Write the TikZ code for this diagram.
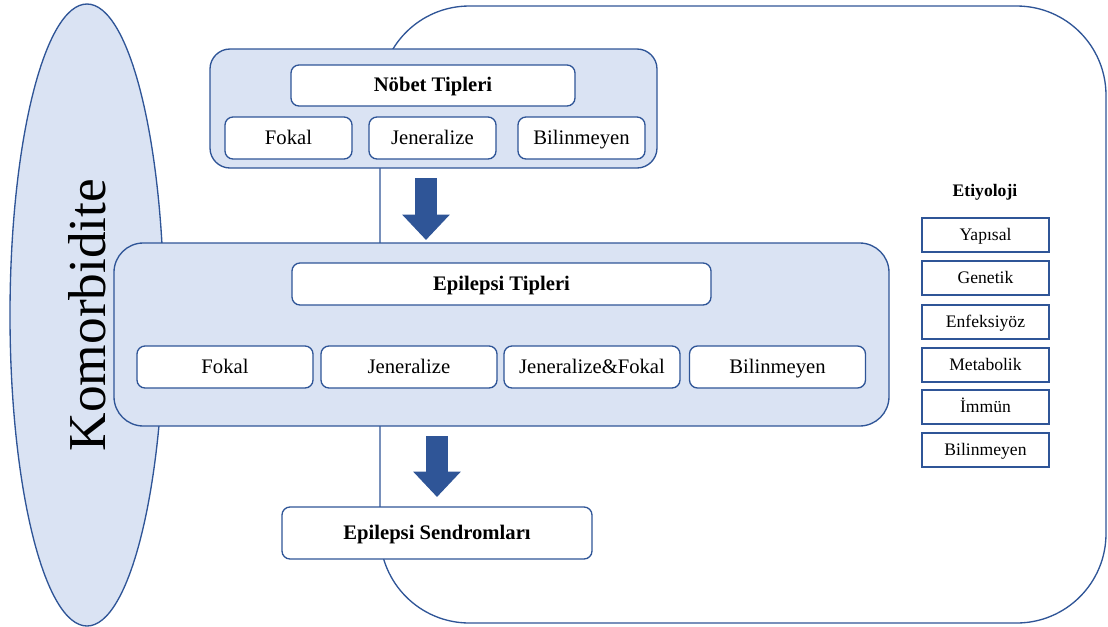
\documentclass[tikz,border=0pt]{standalone}
\usepackage{fontspec}
\setmainfont{Liberation Serif}
\usetikzlibrary{shapes,arrows.meta,positioning}

\definecolor{boxline}{HTML}{2F5597}
\definecolor{boxfill}{HTML}{DAE3F3}

\tikzset{
  panel/.style={draw=boxline, line width=1pt, fill=boxfill, rounded corners=15pt},
  title/.style={draw=boxline, line width=1pt, fill=white, rounded corners=6pt,
    text height=11.5pt, text depth=2pt,
    font=\fontsize{15.5}{18}\selectfont\bfseries},
  item/.style={draw=boxline, line width=1pt, fill=white, rounded corners=6pt,
    text height=11.5pt, text depth=2pt,
    font=\fontsize{15.5}{18}\selectfont},
  etbox/.style={draw=boxline, line width=1.3pt, fill=white,
    text height=9.5pt, text depth=2pt,
    minimum width=95.25pt, minimum height=25.5pt, font=\fontsize{13.2}{15}\selectfont},
  bigarrow/.style={draw=boxline, line width=17pt,
    -{Triangle[width=34.5pt, length=19pt]}}
}

\begin{document}
\begin{tikzpicture}[x=0.75pt, y=-0.75pt]
\useasboundingbox (0,0) rectangle (1108,626);

% Outer frame
\draw[boxline, line width=1pt, rounded corners=67pt] (380,6) rectangle (1106,623);

% Komorbidite
\node[draw=boxline, line width=1pt, fill=boxfill, ellipse, rotate=90,
  minimum width=466.5pt, minimum height=115.5pt, inner sep=0pt,
  font=\fontsize{40}{44}\selectfont] (komorb) at (87,315) {Komorbidite};

% Nöbet tipleri
\node[panel, minimum width=335.25pt, minimum height=89.25pt] (nobet) at (433.5,108.5) {};
\node[title, minimum width=213pt, minimum height=30.75pt] (nobettitle) at (433,85.5) {Nöbet Tipleri};
\node[item, minimum width=95.25pt, minimum height=31.5pt] (nfokal) at (288.5,138) {Fokal};
\node[item, minimum width=95.25pt, minimum height=31.5pt] (njen) at (432.5,138) {Jeneralize};
\node[item, minimum width=95.25pt, minimum height=31.5pt] (nbil) at (581.5,138) {Bilinmeyen};

% Epilepsi tipleri
\node[panel, rounded corners=22pt, minimum width=581.25pt, minimum height=137.25pt] (epi) at (501.5,334.5) {};
\node[title, minimum width=314.25pt, minimum height=31.5pt] (epititle) at (501.5,284) {Epilepsi Tipleri};
\node[item, minimum width=132pt, minimum height=31.5pt] (efokal) at (225,367) {Fokal};
\node[item, minimum width=132pt, minimum height=31.5pt] (ejen) at (409,367) {Jeneralize};
\node[item, minimum width=132pt, minimum height=31.5pt] (ejf) at (592,367) {Jeneralize\&Fokal};
\node[item, minimum width=132pt, minimum height=31.5pt] (ebil) at (777.5,367) {Bilinmeyen};

% Epilepsi sendromlari
\node[title, minimum width=232.5pt, minimum height=39pt] (sendrom) at (437,533) {Epilepsi Sendromları};

% Arrows
\coordinate (a1s) at (426,178);
\coordinate (a1e) at (426,240);
\coordinate (a2s) at (437,436);
\coordinate (a2e) at (437,497);
\draw[bigarrow] (a1s) -- (a1e);
\draw[bigarrow] (a2s) -- (a2e);

% Etiyoloji
\node[font=\fontsize{13.2}{15}\selectfont\bfseries] (etitle) at (985,192) {Etiyoloji};
\node[etbox] (yap) at (985.5,235) {Yapısal};
\node[etbox] (gen) at (985.5,278) {Genetik};
\node[etbox] (enf) at (985.5,322) {Enfeksiyöz};
\node[etbox] (met) at (985.5,365) {Metabolik};
\node[etbox] (imm) at (985.5,407) {İmmün};
\node[etbox] (ebilin) at (985.5,450) {Bilinmeyen};
\end{tikzpicture}
\end{document}
